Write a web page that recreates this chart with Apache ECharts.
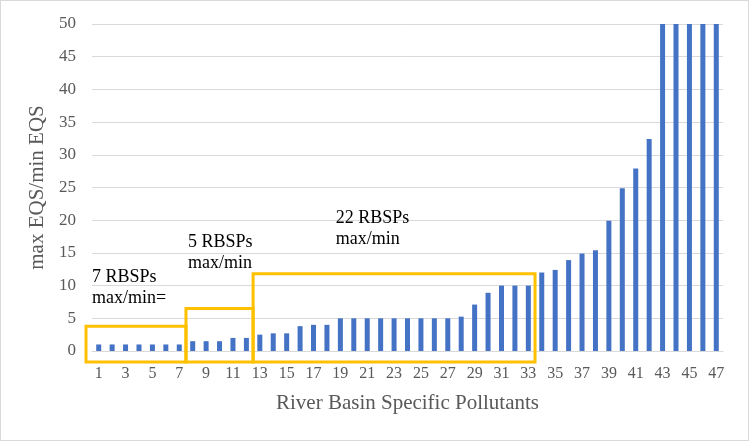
<!DOCTYPE html>
<html>
<head>
<meta charset="utf-8">
<script src="https://cdn.jsdelivr.net/npm/echarts@6/dist/echarts.min.js"></script>
<style>
  html, body { margin: 0; padding: 0; background: #fff; }
  #chart { width: 749px; height: 441px; box-sizing: border-box; border: 1px solid #d9d9d9; }
</style>
</head>
<body>
<div id="chart"></div>
<script>
// pollutant index 1..47
const categories = [];
for (let i = 1; i <= 47; i++) categories.push(String(i));

const ratios = [
  1, 1, 1, 1, 1, 1, 1,
  1.5, 1.5, 1.5, 2, 2,
  2.5, 2.7, 2.7, 3.8, 4, 4, 5, 5, 5, 5, 5, 5, 5, 5, 5, 5.25, 7.1, 8.9, 10, 10, 10,
  12, 12.4, 13.9, 14.9, 15.4, 19.9, 24.9, 27.9, 32.4, 50, 50, 50, 50, 50
];

// groups drawn as yellow boxes: [first index, last index, box top value, label]
const groups = [
  [1, 7, 3.8, '7 RBSPs\nmax/min='],
  [8, 12, 6.5, '5 RBSPs\nmax/min'],
  [13, 33, 11.8, '22 RBSPs\nmax/min']
];
const labelValues = [12.9, 18.3, 21.9];
const labelAnchors = [1, 8, 19];

const chart = echarts.init(document.getElementById('chart'), null, { renderer: 'canvas' });
const serif = '"Liberation Serif", "DejaVu Serif", serif';

chart.setOption({
  animation: false,
  grid: { left: 91, right: 25, top: 23, bottom: 89 },
  xAxis: {
    type: 'category',
    data: categories,
    name: 'River Basin Specific Pollutants',
    nameLocation: 'middle',
    nameGap: 42,
    nameTextStyle: { fontFamily: serif, fontSize: 21, color: '#595959' },
    axisLine: { lineStyle: { color: '#d9d9d9' } },
    axisTick: { show: false },
    axisLabel: { interval: 1, fontFamily: serif, fontSize: 16, color: '#595959', margin: 15 }
  },
  yAxis: {
    type: 'value',
    min: 0,
    max: 50,
    interval: 5,
    name: 'max EQS/min EQS',
    nameLocation: 'middle',
    nameGap: 43,
    nameTextStyle: { fontFamily: serif, fontSize: 21, color: '#595959' },
    axisLabel: { fontFamily: serif, fontSize: 17, color: '#595959', margin: 16 },
    splitLine: { lineStyle: { color: '#d9d9d9' } }
  },
  series: [{
    type: 'bar',
    data: ratios,
    barWidth: 5,
    itemStyle: { color: '#4472c4' }
  }]
});

// yellow boxes and text, placed through the chart's own scales
function px(idx, val) {
  return chart.convertToPixel({ gridIndex: 0 }, [idx, val]);
}
const step = px(1, 0)[0] - px(0, 0)[0];
const boxBottom = -1.7;
const elements = [];
groups.forEach((g, k) => {
  const left = px(g[0] - 1, 0)[0] - step / 2 - (k === 0 ? 6 : 0);
  const right = px(g[1] - 1, 0)[0] + step / 2;
  const top = px(0, g[2])[1];
  const bottom = px(0, boxBottom)[1];
  elements.push({
    type: 'rect',
    shape: { x: left, y: top, width: right - left, height: bottom - top },
    style: { fill: 'none', stroke: '#ffc000', lineWidth: 3 },
    z: 100
  });
  elements.push({
    type: 'text',
    x: px(labelAnchors[k] - 1, 0)[0] - step / 2 + (k === 0 ? 0 : 2),
    y: px(0, labelValues[k])[1],
    style: {
      text: g[3],
      font: '18px ' + serif,
      fill: '#000',
      lineHeight: 21
    },
    z: 101
  });
});
chart.setOption({ graphic: elements });
</script>
</body>
</html>
